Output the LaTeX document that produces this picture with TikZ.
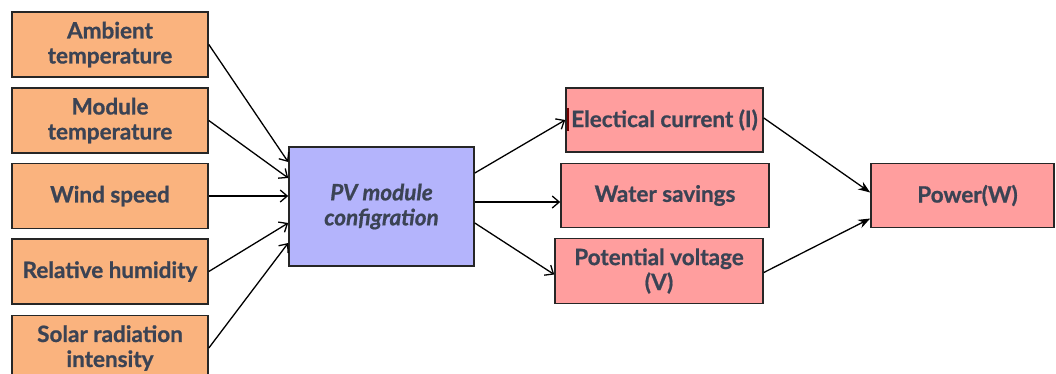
\documentclass[tikz,border=0pt]{standalone}
\usepackage{fontspec}
\setmainfont{Lato}[UprightFont=* Bold,ItalicFont=* Bold Italic,FakeBold=0.8]
\usetikzlibrary{arrows.meta}
\definecolor{inbox}{HTML}{FAB37E}
\definecolor{pvbox}{HTML}{B4B4FC}
\definecolor{outbox}{HTML}{FF9E9E}
\definecolor{boxtext}{HTML}{3B4354}
\tikzset{
  factor/.style={draw=black!85,line width=1.6pt,fill=inbox,text=boxtext,align=center,
    minimum width=196pt,minimum height=65pt,inner sep=0pt,font=\fontsize{22.5}{25}\selectfont},
  result/.style={factor,fill=outbox,minimum height=64pt},
  flow/.style={line width=1.3pt,-{Straight Barb[length=7pt,width=12pt]}},
  sum/.style={line width=1.3pt,-{Stealth[length=12pt,width=9pt]}}
}

\begin{document}
\begin{tikzpicture}[x=1pt,y=-1pt]
\path[use as bounding box] (0,0) rectangle (1056,373);
\clip (0,0) rectangle (1056,373);
% inputs
\node[factor] (amb) at (110,44.5) {Ambient\\temperature};
\node[factor] (mod) at (110,120.5) {Module\\temperature};
\node[factor] (wind) at (110,196) {Wind speed};
\node[factor] (rel) at (110,271.5) {Relative humidity};
\node[factor] (sol) at (110,348) {Solar radiation\\intensity};
% model
\node[factor,fill=pvbox,minimum width=185pt,minimum height=119pt,font=\fontsize{22.5}{25}\selectfont\itshape] (pv) at (381.5,206.5) {PV module\\configration};
% outputs
\node[result,minimum width=197pt] (elec) at (664.5,120) {Electical current (I)};
\node[result,minimum width=208pt] (water) at (665,195.5) {Water savings};
\node[result,minimum width=208pt,minimum height=65pt] (volt) at (659,271) {Potential voltage\\(V)};
\node[result,minimum width=183pt] (power) at (962.5,195.5) {\hspace*{10pt}Power(W)};
\draw[line width=2.5pt,draw=red!45!black] ([xshift=3pt,yshift=12pt]elec.west) -- ([xshift=3pt,yshift=-11pt]elec.west);
% connectors
\draw[flow] (amb.east) -- ([yshift=44.5pt]pv.west);
\draw[flow] (mod.east) -- ([yshift=28.5pt]pv.west);
\draw[flow] (wind.east) -- (wind.east -| pv.west);
\draw[flow] (rel.east) -- ([yshift=-16.5pt]pv.west);
\draw[flow] (sol.east) -- ([yshift=-36.5pt]pv.west);
\draw[flow] ([yshift=33.5pt]pv.east) -- (elec.west);
\draw[flow] ([yshift=4.5pt]pv.east) -- ([yshift=4.5pt]pv.east -| water.west);
\draw[flow] ([yshift=-16.5pt]pv.east) -- ([yshift=-3.5pt]volt.west);
\draw[sum] ([yshift=2pt]elec.east) -- ([yshift=3pt]power.west);
\draw[sum] ([yshift=-1.5pt]volt.east) -- ([yshift=-23pt]power.west);
\end{tikzpicture}
\end{document}
